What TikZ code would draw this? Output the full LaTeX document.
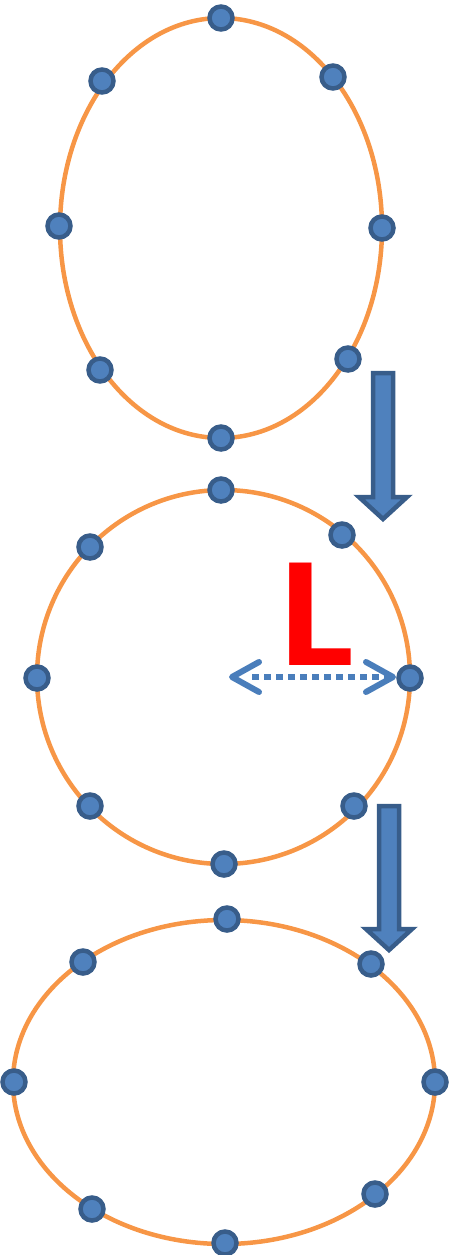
\documentclass[tikz,border=0pt]{standalone}
\usepackage{fontspec}
\newfontfamily\carl{Carlito}
\usetikzlibrary{arrows.meta}
\definecolor{ring}{HTML}{F79646}
\definecolor{dotfill}{HTML}{4F81BD}
\definecolor{dotline}{HTML}{385D8A}
\definecolor{dashblue}{HTML}{4A7EBB}
\tikzset{
  ringline/.style={draw=ring, line width=4.5pt},
  dot/.style={circle, fill=dotfill, draw=dotline, line width=4.5pt, minimum size=23pt, inner sep=0pt},
  bigarrow/.style={fill=dotfill, draw=dotline, line width=4.5pt, line join=miter},
  chev/.style={draw=dashblue, line width=6pt, line cap=round, line join=round},
}
\begin{document}
\begin{tikzpicture}[x=1pt,y=-1pt]
\useasboundingbox (0,0) rectangle (450,1255);
% ring 1
\draw[ringline] (221,228) ellipse [x radius=161, y radius=210];
% ring 2
\draw[ringline] (223.5,677) ellipse [x radius=186.5, y radius=187];
% ring 3
\draw[ringline] (224,1082) ellipse [x radius=211, y radius=162];
% arrows
\draw[bigarrow] (373,373) -- (393,373) -- (393,497) -- (407,497) -- (383,519) -- (359,497) -- (373,497) -- cycle;
\draw[bigarrow] (379,806) -- (399,806) -- (399,929) -- (412,929) -- (389,950) -- (366,929) -- (379,929) -- cycle;
% L
\node[text=red, font=\carl\bfseries\fontsize{158}{160}\selectfont, inner sep=0pt, anchor=base west, xscale=1.1] (L) at (280,665) {L};
% dotted double arrow
\coordinate (dl) at (232,677);
\coordinate (dr) at (393,677);
\draw[draw=dashblue, line width=6pt, dash pattern=on 7pt off 5pt] (252,677) -- (388,677);
\draw[chev] (259,662) -- (dl) -- (259,692);
\draw[chev] (366,662) -- (dr) -- (366,692);
% dots ring 1
\node[dot] (a1) at (221,18) {};
\node[dot] (a2) at (102,81) {};
\node[dot] (a3) at (333,77) {};
\node[dot] (a4) at (59,226) {};
\node[dot] (a5) at (382,228) {};
\node[dot] (a6) at (100,370) {};
\node[dot] (a7) at (348,359) {};
\node[dot] (a8) at (221,438) {};
% dots ring 2
\node[dot] (b1) at (221,490) {};
\node[dot] (b2) at (90,547) {};
\node[dot] (b3) at (342,535) {};
\node[dot] (b4) at (37,678) {};
\node[dot] (b5) at (410,678) {};
\node[dot] (b6) at (90,806) {};
\node[dot] (b7) at (354,806) {};
\node[dot] (b8) at (224,864) {};
% dots ring 3
\node[dot] (c1) at (227,919) {};
\node[dot] (c2) at (83,962) {};
\node[dot] (c3) at (371,964) {};
\node[dot] (c4) at (14,1082) {};
\node[dot] (c5) at (435,1082) {};
\node[dot] (c6) at (92,1209) {};
\node[dot] (c7) at (375,1194) {};
\node[dot] (c8) at (225,1243) {};
\end{tikzpicture}
\end{document}
